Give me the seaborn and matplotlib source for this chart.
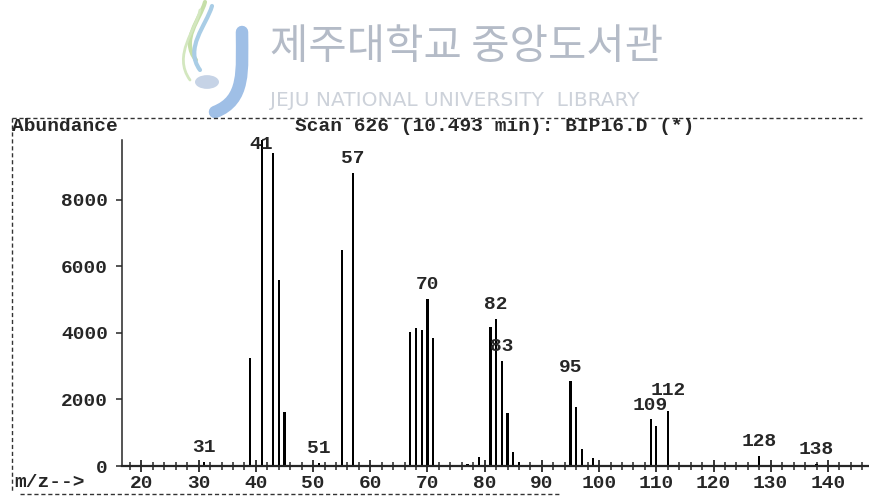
## Mass spectrum, scan 626 (BIP16.D), redrawn from the scanned printout
import matplotlib
matplotlib.use("Agg")
import matplotlib.pyplot as plt
import matplotlib.patches as mpatches
from matplotlib.lines import Line2D
from matplotlib.path import Path
import pandas as pd
import seaborn as sns

# peak list
mz = [31, 39, 41, 43, 44, 45, 51, 55, 57, 67, 68, 69, 70, 71, 77, 79,
      81, 82, 83, 84, 85, 86, 95, 96, 97, 99, 109, 110, 112, 128, 138]
abundance = [130, 3250, 9800, 9400, 5600, 1620, 90, 6500, 8800, 4040, 4160, 4090, 5020, 3860, 60, 280,
             4190, 4410, 3150, 1590, 430, 120, 2540, 1780, 500, 230, 1400, 1200, 1640, 300, 70]
labeled = [31, 41, 51, 57, 70, 82, 83, 95, 109, 112, 128, 138]
y_ticks = [0, 2000, 4000, 6000, 8000]
x_ticks = list(range(20, 150, 10))
title = "Scan 626 (10.493 min): BIP16.D (*)"

df = pd.DataFrame({"mz": mz, "abundance": abundance})

sns.set_style("ticks")
plt.rcParams["font.family"] = ["Liberation Mono", "DejaVu Sans Mono"]
plt.rcParams["font.weight"] = "bold"

W, H = 870, 498
fig = plt.figure(figsize=(W / 100, H / 100), dpi=100)
ax = fig.add_axes([122 / W, 1 - 466 / H, (868 - 122) / W, (466 - 120) / H])

sns.barplot(data=df, x="mz", y="abundance", native_scale=True, width=0.38,
            color="black", saturation=1, errorbar=None, linewidth=0, ax=ax)

ax.set_xlim(16.6, 147)
ax.set_ylim(0, 10400)
ax.set_xlabel("")
ax.set_ylabel("")

# axes look
sns.despine(ax=ax, top=True, right=True)
ax.spines["bottom"].set_linewidth(1.6)
ax.spines["left"].set_linewidth(1.1)
ax.spines["left"].set_linestyle((0, (3, 1)))
ax.spines["left"].set_bounds(0, 9800)

ax.set_xticks(x_ticks)
ax.set_xticks(list(range(18, 147, 2)), minor=True)
ax.tick_params(axis="x", which="major", direction="inout", length=9, width=1.3, labelsize=14, pad=2)
ax.tick_params(axis="x", which="minor", direction="inout", length=6, width=1.1)
ax.set_yticks(y_ticks)
ax.set_yticks([], minor=True)
ax.tick_params(axis="y", which="major", direction="out", length=4, width=1.1, labelsize=14, pad=6)
for t in ax.get_xticklabels() + ax.get_yticklabels():
    t.set_fontweight("bold")

# peak labels
for m, a in zip(mz, abundance):
    if m not in labeled:
        continue
    ly = min(a + 430, 9650)
    if m == 112:
        ly += 200
    ax.text(m, ly, str(m), ha="center", va="center", fontsize=14, fontweight="bold")

# header / axis captions
fig.text(12 / W, 1 - 126 / H, "Abundance", ha="left", va="center", fontsize=14, fontweight="bold")
fig.text(495 / W, 1 - 126 / H, title, ha="center", va="center", fontsize=14, fontweight="bold")
fig.text(14 / W, 1 - 482 / H, "m/z-->", ha="left", va="center", fontsize=14, fontweight="bold")

# dotted frame of the printout
frame_kw = dict(color="#333333", lw=1.0, linestyle=(0, (3, 2)), transform=fig.transFigure)
fig.add_artist(Line2D([12 / W, 862 / W], [1 - 118 / H, 1 - 118 / H], **frame_kw))
fig.add_artist(Line2D([12 / W, 12 / W], [1 - 118 / H, 1 - 492 / H], **frame_kw))
fig.add_artist(Line2D([20 / W, 560 / W], [1 - 494 / H, 1 - 494 / H], **frame_kw))

# library watermark
fig.text(270 / W, 1 - 48 / H, "제주대학교 중앙도서관", ha="left", va="center", fontsize=30,
         color="#b4bbc7", family=["Noto Sans CJK KR", "DejaVu Sans"], fontweight="normal")
fig.text(270 / W, 1 - 100 / H, "JEJU NATIONAL UNIVERSITY  LIBRARY", ha="left", va="center",
         fontsize=14.5, color="#cdd2da", family=["DejaVu Sans"], fontweight="normal")

def px(x, y):
    return (x / W, 1 - y / H)

def swoosh(points, color, lw):
    verts = [px(*p) for p in points]
    codes = [Path.MOVETO] + [Path.CURVE4] * (len(verts) - 1)
    fig.add_artist(mpatches.PathPatch(Path(verts, codes), facecolor="none", edgecolor=color,
                                      lw=lw, transform=fig.transFigure, capstyle="round"))

swoosh([(196, 60), (180, 40), (200, 20), (205, 2)], "#c6dfa8", 3)
swoosh([(200, 70), (184, 48), (206, 26), (212, 6)], "#a9cde6", 3)
swoosh([(190, 80), (172, 55), (196, 30), (200, 10)], "#d3e7bf", 2)
swoosh([(242, 32), (242, 70), (246, 100), (215, 112)], "#9fbfe6", 9)
fig.add_artist(mpatches.Circle(px(207, 82), 12 / W, facecolor="#c6d3e6", edgecolor="none",
                               transform=fig.transFigure))
fig.text(207 / W, 1 - 92 / H, "JEJU", ha="center", va="center", fontsize=5, color="white",
         family=["DejaVu Sans"])

fig.savefig("out.png", dpi=100)
